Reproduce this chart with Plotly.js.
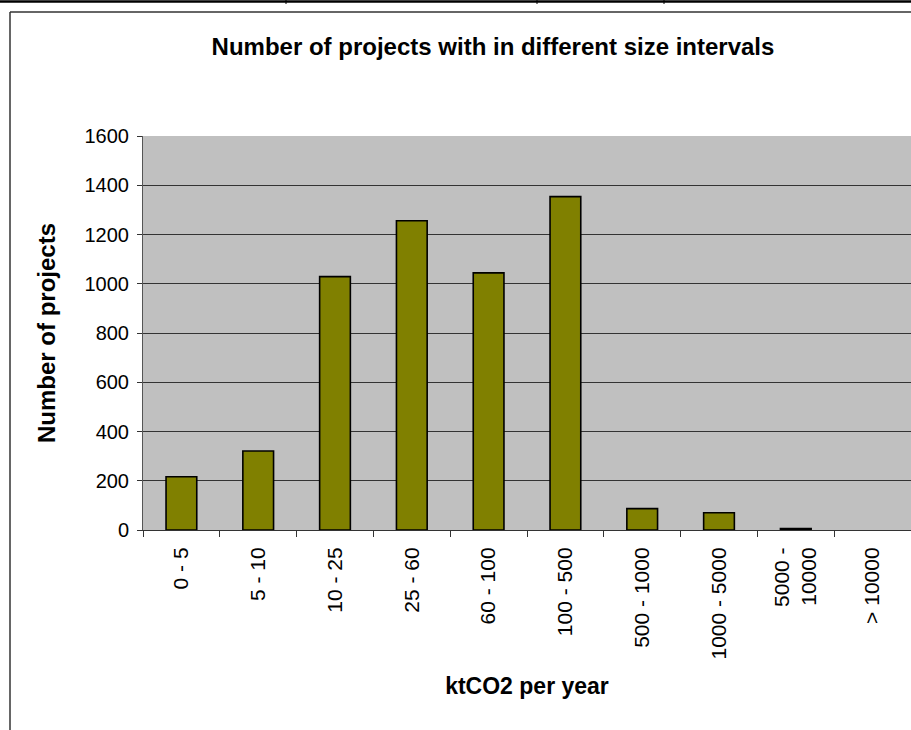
<!DOCTYPE html>
<html>
<head>
<meta charset="utf-8">
<script src="https://cdn.plot.ly/plotly-3.0.1.min.js"></script>
<style>html,body{margin:0;padding:0;background:#fff;}#chart{width:911px;height:730px;}</style>
</head>
<body>
<div id="chart"></div>
<script>
// Data
const categories = ["0 - 5", "5 - 10", "10 - 25", "25 - 60", "60 - 100", "100 - 500", "500 - 1000", "1000 - 5000", "5000 -<br>10000", "> 10000"];
const projectCounts = [216, 321, 1029, 1256, 1044, 1354, 87, 70, 6, 0];
const yTickValues = [0, 200, 400, 600, 800, 1000, 1200, 1400, 1600];

const chartTitle = "Number of projects with in different size intervals";
const xTitle = "ktCO2 per year";
const yTitle = "Number of projects";

// page geometry (pixels)
const W = 911, H = 730;
const L = 143, R = 0, T = 136, B = 200;
const pw = W - L - R, ph = H - T - B;
const px = v => (v - L) / pw;          // page x -> paper x
const py = v => (H - B - v) / ph;      // page y -> paper y

const font = "Liberation Sans, Arial, sans-serif";

const trace = {
  type: "bar",
  x: categories,
  y: projectCounts,
  marker: {
    color: "#808000",
    line: { color: "#000000", width: projectCounts.map(v => v > 0 ? 1.6 : 0) }
  },
  hoverinfo: "x+y"
};

const layout = {
  width: W, height: H,
  margin: { l: L, r: R, t: T, b: B, pad: 0 },
  paper_bgcolor: "#ffffff",
  plot_bgcolor: "#c0c0c0",
  showlegend: false,
  bargap: 0.6,
  font: { family: font, color: "#000000", size: 20 },
  title: {
    text: "<b>" + chartTitle + "</b>",
    font: { family: font, size: 24, color: "#000" },
    x: 493 / W, xref: "container", xanchor: "center",
    y: 1 - 47 / H, yref: "container", yanchor: "middle"
  },
  xaxis: {
    type: "category",
    tickangle: -90,
    tickson: "boundaries",
    ticks: "outside", ticklen: 6, tickwidth: 1, tickcolor: "#333",
    showline: true, linecolor: "#333", linewidth: 1,
    showgrid: false,
    tickfont: { family: font, size: 21, color: "#000" },
    ticklabelstandoff: 8,
    title: { text: "<b>" + xTitle + "</b>", font: { family: font, size: 23, color: "#000" }, standoff: 19 },
    range: [-0.5, 9.5],
    fixedrange: true
  },
  yaxis: {
    range: [0, 1600],
    tickvals: yTickValues,
    ticktext: yTickValues.map(String),
    ticks: "outside", ticklen: 5, tickwidth: 1, tickcolor: "#333",
    showline: true, linecolor: "#555", linewidth: 1,
    showgrid: true, gridcolor: "#333", gridwidth: 1,
    zeroline: false,
    tickfont: { family: font, size: 20, color: "#000" },
    ticklabelstandoff: 4,
    title: { text: "<b>" + yTitle + "</b>", font: { family: font, size: 24, color: "#000" }, standoff: 22 },
    fixedrange: true
  },
  shapes: [
    // chart frame (left and top edges)
    { type: "line", xref: "paper", yref: "paper", x0: px(10), x1: px(10), y0: py(12), y1: py(735), line: { color: "#333", width: 1.5 } },
    { type: "line", xref: "paper", yref: "paper", x0: px(10), x1: px(915), y0: py(12), y1: py(12), line: { color: "#333", width: 1.5 } },
    // table line at top of page
    { type: "line", xref: "paper", yref: "paper", x0: px(-5), x1: px(915), y0: py(1.5), y1: py(1.5), line: { color: "#000", width: 2.5 } },
    { type: "line", xref: "paper", yref: "paper", x0: px(286), x1: px(286), y0: py(-2), y1: py(4), line: { color: "#000", width: 1 } },
    { type: "line", xref: "paper", yref: "paper", x0: px(537), x1: px(537), y0: py(-2), y1: py(4), line: { color: "#000", width: 1 } },
    { type: "line", xref: "paper", yref: "paper", x0: px(664), x1: px(664), y0: py(-2), y1: py(4), line: { color: "#000", width: 1 } }
  ]
};

Plotly.newPlot("chart", [trace], layout, { displayModeBar: false, staticPlot: true });
</script>
</body>
</html>
